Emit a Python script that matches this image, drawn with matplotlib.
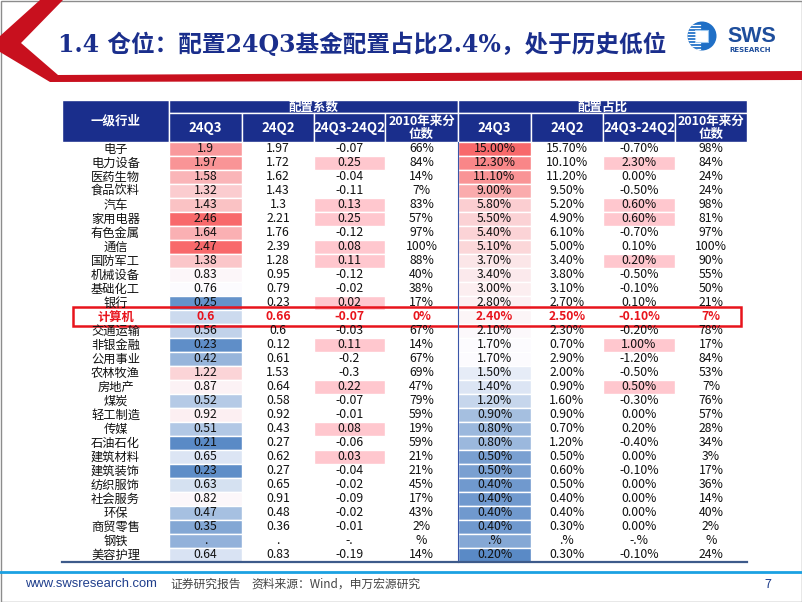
import numpy as np
import matplotlib
matplotlib.use("Agg")
import matplotlib.pyplot as plt
import matplotlib.patches as mpatches
from matplotlib.colors import LinearSegmentedColormap, TwoSlopeNorm

plt.rcParams['font.family'] = ['Noto Sans CJK SC', 'DejaVu Sans']

# ---- data ----
industries = ['电子', '电力设备', '医药生物', '食品饮料', '汽车', '家用电器', '有色金属', '通信',
              '国防军工', '机械设备', '基础化工', '银行', '计算机', '交通运输', '非银金融', '公用事业',
              '农林牧渔', '房地产', '煤炭', '轻工制造', '传媒', '石油石化', '建筑材料', '建筑装饰',
              '纺织服饰', '社会服务', '环保', '商贸零售', '钢铁', '美容护理']
nan = np.nan
coef_q3 = [1.9, 1.97, 1.58, 1.32, 1.43, 2.46, 1.64, 2.47, 1.38, 0.83, 0.76, 0.25, 0.6, 0.56, 0.23,
           0.42, 1.22, 0.87, 0.52, 0.92, 0.51, 0.21, 0.65, 0.23, 0.63, 0.82, 0.47, 0.35, nan, 0.64]
coef_q2 = [1.97, 1.72, 1.62, 1.43, 1.3, 2.21, 1.76, 2.39, 1.28, 0.95, 0.79, 0.23, 0.66, 0.6, 0.12,
           0.61, 1.53, 0.64, 0.58, 0.92, 0.43, 0.27, 0.62, 0.27, 0.65, 0.91, 0.48, 0.36, nan, 0.83]
coef_diff = [-0.07, 0.25, -0.04, -0.11, 0.13, 0.25, -0.12, 0.08, 0.11, -0.12, -0.02, 0.02, -0.07, -0.03, 0.11,
             -0.2, -0.3, 0.22, -0.07, -0.01, 0.08, -0.06, 0.03, -0.04, -0.02, -0.09, -0.02, -0.01, nan, -0.19]
coef_pct = [66, 84, 14, 7, 83, 57, 97, 100, 88, 40, 38, 17, 0, 67, 14,
            67, 69, 47, 79, 59, 19, 59, 21, 21, 45, 17, 43, 2, nan, 14]
share_q3 = [15.0, 12.3, 11.1, 9.0, 5.8, 5.5, 5.4, 5.1, 3.7, 3.4, 3.0, 2.8, 2.4, 2.1, 1.7,
            1.7, 1.5, 1.4, 1.2, 0.9, 0.8, 0.8, 0.5, 0.5, 0.4, 0.4, 0.4, 0.4, nan, 0.2]
share_q2 = [15.7, 10.1, 11.2, 9.5, 5.2, 4.9, 6.1, 5.0, 3.4, 3.8, 3.1, 2.7, 2.5, 2.3, 0.7,
            2.9, 2.0, 0.9, 1.6, 0.9, 0.7, 1.2, 0.5, 0.6, 0.5, 0.4, 0.4, 0.3, nan, 0.3]
share_diff = [-0.7, 2.3, 0.0, -0.5, 0.6, 0.6, -0.7, 0.1, 0.2, -0.5, -0.1, 0.1, -0.1, -0.2, 1.0,
              -1.2, -0.5, 0.5, -0.3, 0.0, 0.2, -0.4, 0.0, -0.1, 0.0, 0.0, 0.0, 0.0, nan, -0.1]
share_pct = [98, 84, 24, 24, 98, 81, 97, 100, 90, 55, 50, 21, 7, 78, 17,
             84, 53, 7, 76, 57, 28, 34, 3, 17, 36, 14, 40, 2, nan, 24]
# 钢铁 row shows broken cells in the source
steel_labels = ['.', '.', '-.', '%', '.%', '.%', '-.%', '%']
steel_fill = [0.40, 0.60]   # estimated shade of its two coloured cells
share_diff_marked = ['电力设备', '汽车', '家用电器', '国防军工', '非银金融', '房地产']
focus = '计算机'

title = '1.4 仓位：配置24Q3基金配置占比2.4%，处于历史低位'
group_heads = ['配置系数', '配置占比']
sub_heads = ['24Q3', '24Q2', '24Q3-24Q2', '2010年来分\n位数'] * 2

# ---- layout (pixels) ----
W, H = 802, 602
col_x = [62, 169, 242, 314, 385, 458, 531, 603, 675, 747]
head_top, head_mid, head_bot = 100, 113, 142
row_h = 14
navy = '#1A2E8C'
pink = '#FFC7CE'
cmap = LinearSegmentedColormap.from_list('rwb', ['#5A8AC6', '#FCFCFF', '#F8696B'])

fig = plt.figure(figsize=(W / 100, H / 100), dpi=100)
ax = fig.add_axes([0, 0, 1, 1])
ax.set_xlim(0, W)
ax.set_ylim(H, 0)
ax.axis('off')

# frame
ax.add_patch(mpatches.Rectangle((0.5, 0.5), W - 1, H - 1, fill=False, ec='#8C8C8C', lw=1))

# red chevron + band
ax.add_patch(mpatches.Polygon([(40, 0), (63, 0), (21, 43), (58, 75), (802, 71), (802, 80),
                               (50, 82), (0, 52), (0, 36)], closed=True, fc='#C8101E', ec='none'))

t = ax.text(58, 45, title, fontsize=15, fontweight='bold', color=navy, va='center', ha='left',
            family=['DejaVu Serif', 'Noto Sans CJK SC'])
fig.canvas.draw()
bb = t.get_window_extent()
t.set_fontsize(t.get_fontsize() * 610 / bb.width)

# logo
circ = mpatches.Circle((702, 36), 14.5, fc='#1F6FC6', ec='none')
ax.add_patch(circ)
for yy in np.arange(25, 50, 3):
    ln, = ax.plot([687, 700], [yy, yy], color='white', lw=0.9)
    ln.set_clip_path(circ)
ax.add_patch(mpatches.Rectangle((695, 30), 13, 12, fc='white', ec='#9CC8F0', lw=0.8))
ax.text(727, 36.5, 'SWS', fontsize=15.5, fontweight='bold', color='#1E4E9C', va='center', ha='left',
        family=['Liberation Sans', 'DejaVu Sans'])
ax.text(729, 50.5, 'RESEARCH', fontsize=5, fontweight='bold', color='#1E4E9C', va='center', ha='left',
        family='DejaVu Sans')

# header
ax.add_patch(mpatches.Rectangle((col_x[0], head_top), col_x[1] - col_x[0], head_bot - head_top,
                                fc=navy, ec='white', lw=1))
ax.text((col_x[0] + col_x[1]) / 2, (head_top + head_bot) / 2, '一级行业', color='white',
        fontsize=9, fontweight='bold', ha='center', va='center')
for g, name in enumerate(group_heads):
    x0, x1 = col_x[1 + 4 * g], col_x[5 + 4 * g]
    ax.add_patch(mpatches.Rectangle((x0, head_top), x1 - x0, head_mid - head_top, fc=navy, ec='white', lw=1))
    ax.text((x0 + x1) / 2, (head_top + head_mid) / 2 + 0.5, name, color='white', fontsize=9,
            fontweight='bold', ha='center', va='center')
for c, name in enumerate(sub_heads):
    x0, x1 = col_x[c + 1], col_x[c + 2]
    ax.add_patch(mpatches.Rectangle((x0, head_mid), x1 - x0, head_bot - head_mid, fc=navy, ec='white', lw=1))
    ax.text((x0 + x1) / 2, (head_mid + head_bot) / 2 + 0.5, name, color='white',
            fontsize=9.5 if '\n' not in name else 9, fontweight='bold', ha='center', va='center',
            linespacing=1.05)

# body
columns = [coef_q3, coef_q2, coef_diff, coef_pct, share_q3, share_q2, share_diff, share_pct]
fmts = [lambda v: f'{v:g}'] * 3 + [lambda v: f'{v:.0f}%'] + [lambda v: f'{v:.2f}%'] * 3 + [lambda v: f'{v:.0f}%']
norms = []
for vals in (coef_q3, share_q3):
    a = np.array(vals, dtype=float)
    norms.append(TwoSlopeNorm(vcenter=np.nanmedian(a), vmin=np.nanmin(a), vmax=np.nanmax(a)))

for i, name in enumerate(industries):
    y0 = head_bot + i * row_h
    yc = y0 + row_h / 2
    hot = name == focus
    tc = '#E8141C' if hot else '#111111'
    fw = 'bold' if hot else 'normal'
    ax.text((col_x[0] + col_x[1]) / 2, yc, name, fontsize=8.8, color=tc, fontweight=fw,
            ha='center', va='center')
    for c, vals in enumerate(columns):
        x0, x1 = col_x[c + 1], col_x[c + 2]
        v = vals[i]
        fill = None
        if c in (0, 4):
            g = c // 4
            cv = steel_fill[g] if np.isnan(v) else v
            fill = cmap(norms[g](cv))
        elif c == 2 and v > 0:
            fill = pink
        elif c == 6 and name in share_diff_marked:
            fill = pink
        if fill is not None:
            ax.add_patch(mpatches.Rectangle((x0, y0), x1 - x0, row_h, fc=fill, ec='white', lw=1))
        label = steel_labels[c] if np.isnan(v) else fmts[c](v)
        ax.text((x0 + x1) / 2, yc, label, fontsize=8.8, color=tc, fontweight=fw,
                ha='center', va='center')

body_bot = head_bot + len(industries) * row_h
ax.plot([col_x[5], col_x[5]], [head_bot, body_bot], color='#3A56A8', lw=0.8)
ax.plot([col_x[0], col_x[-1]], [body_bot, body_bot], color='#3D5A8A', lw=1.6)

# focus box
k = industries.index(focus)
ax.add_patch(mpatches.Rectangle((73, head_bot + k * row_h - 3), 668, row_h + 5, fill=False,
                                ec='#E8141C', lw=1.8))

# footer
ax.plot([0, W], [572, 572], color='#1BA1E2', lw=2)
ax.text(25, 584, 'www.swsresearch.com', fontsize=9.4, color='#1F3E8C', va='center', ha='left',
        family=['Liberation Sans', 'DejaVu Sans'])
ax.text(170, 584, '证券研究报告', fontsize=8.5, color='#444444', va='center', ha='left')
ax.text(251, 584, '资料来源：Wind，申万宏源研究', fontsize=8.5, color='#444444', va='center', ha='left')
ax.text(764, 584, '7', fontsize=9, color='#1F3E8C', va='center', ha='left')

fig.savefig('out.png', dpi=100)
